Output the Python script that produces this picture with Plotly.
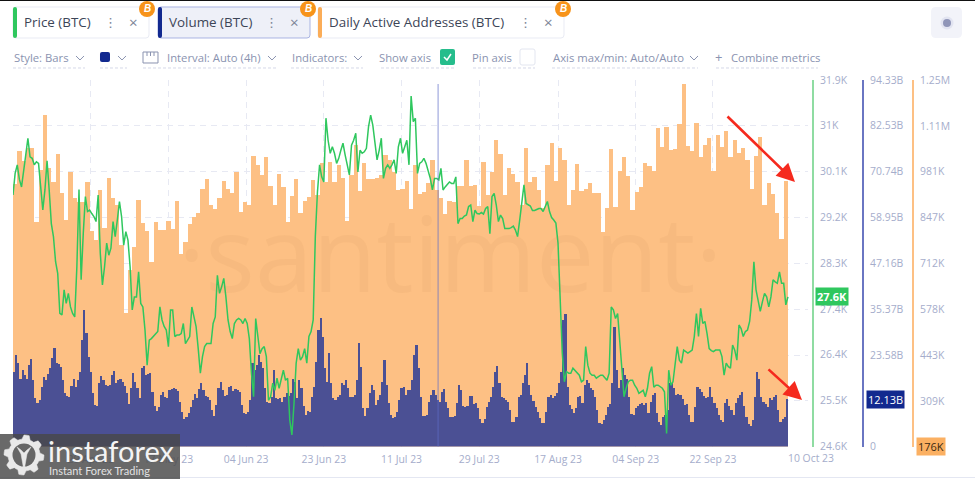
import math
import pandas as pd
import plotly.graph_objects as go

W, H = 975, 479

DAA_K = [945,1043,1013,1050,1050,835,986,1147,991,950,1033,918,839,981,905,893,893,952,808,781,929,815,962,903,883,766,566,693,761,898,832,808,717,833,810,810,837,812,895,740,774,828,849,861,932,960,885,872,903,954,932,920,979,864,893,883,1028,1001,971,1023,
940,883,976,937,835,910,960,859,895,908,957,913,1006,952,1010,952,1001,962,837,971,1059,924,1007,959,961,964,971,1030,1015,981,929,931,954,872,1001,915,922,947,1015,927,903,856,895,893,939,939,1015,939,942,881,1010,913,981,1074,1032,913,991,976,950,885,1050,
952,965,928,874,1001,1066,955,1052,1015,884,928,1004,926,932,947,920,920,805,876,1049,879,984,1025,969,869,922,937,1008,998,984,1108,1053,1112,1044,1048,1121,1238,1057,1042,1123,1024,1061,1079,982,1088,1055,1101,1023,1075,1035,1052,1015,930,1027,1084,884,949,915,861,785,955]

VOLUME_B = [19.3,23.6,21.4,17.5,19.7,18.4,17.5,21.0,22.4,17.1,12.4,11.3,12.0,15.4,18.0,17.1,18.7,20.1,22.7,25.3,21.4,21.2,20.5,17.1,13.7,13.0,12.8,15.6,17.3,15.2,17.1,19.3,27.4,35.1,29.1,23.1,19.3,13.7,10.7,10.4,16.3,18.1,17.1,15.8,15.6,15.8,18.4,19.5,16.3,17.1,17.5,16.7,15.6,13.7,10.9,15.0,18.8,16.7,15.0,12.4,20.1,20.8,18.4,18.7,19.0,14.1,10.3,9.2,10.1,13.3,13.9,12.7,12.4,14.5,14.7,15.0,14.7,14.4,11.5,9.0,7.0,7.5,8.5,10.1,12.0,13.4,12.4,14.7,16.3,14.5,13.0,12.7,12.0,9.4,7.9,10.7,15.0,16.7,14.5,13.0,13.3,15.2,15.6,14.4,14.7,14.5,13.9,10.7,8.5,8.3,9.0,12.0,21.4,19.7,21.0,23.6,21.8,20.1,15.0,11.5,11.1,
12.8,19.7,12.4,12.1,12.4,11.5,12.8,13.7,13.0,13.7,17.5,16.7,12.4,17.1,15.0,10.3,8.1,9.2,9.0,12.8,15.4,21.8,30.0,33.0,28.3,20.1,16.7,24.0,16.3,12.4,12.0,12.7,13.3,16.3,15.8,17.1,15.0,12.8,12.8,13.3,17.1,26.6,20.5,9.8,7.9,9.8,13.7,15.8,14.5,10.7,12.0,13.3,16.7,22.3,15.8,11.1,8.1,7.4,7.7,9.0,12.0,15.0,15.2,13.3,14.5,14.5,17.1,23.6,26.1,20.1,12.8,7.9,7.9,8.1,11.5,13.3,14.5,13.3,12.0,11.5,14.1,14.7,11.5,9.8,7.7,7.7,7.9,11.1,15.8,14.5,10.4,10.2,10.4,13.0,13.0,10.9,11.2,9.8,7.2,6.1,7.2,10.2,11.5,12.8,15.4,19.3,20.8,16.3,12.8,12.4,12.0,11.5,9.4,6.4,6.4,7.7,12.8,13.3,16.3,18.4,21.4,15.8,
13.3,11.8,10.2,9.0,7.3,6.0,6.1,9.0,12.8,13.3,12.4,13.0,13.7,16.3,19.3,32.6,34.1,15.4,10.7,9.6,8.7,9.8,12.8,13.0,11.1,15.8,17.1,16.3,15.0,14.5,12.7,9.4,6.0,5.8,6.8,8.1,10.2,10.9,16.3,30.8,19.7,15.0,17.1,20.1,18.4,17.5,12.8,8.4,8.1,9.8,10.4,10.9,11.1,10.7,11.1,8.5,11.5,13.3,13.7,8.5,6.4,5.5,7.7,8.1,9.4,16.3,16.4,15.0,13.3,13.4,13.3,12.1,10.7,10.9,8.1,6.4,6.4,10.2,15.2,14.7,14.1,13.0,12.4,12.8,15.2,12.8,11.1,9.8,8.1,6.8,6.4,11.1,12.1,10.4,9.4,8.1,11.2,12.4,13.3,14.1,10.4,7.7,5.8,5.3,6.8,12.8,19.3,17.5,12.8,11.5,10.9,10.2,12.4,12.0,12.8,13.3,9.4,6.4,7.0,7.7,12.13]

PRICE_K = [29.61,30.04,30.21,29.92,29.77,30.14,30.41,30.74,30.37,30.34,30.21,30.27,30.24,29.77,29.31,29.71,30.29,29.71,29.04,28.78,28.28,28.05,27.25,27.22,27.72,27.45,27.65,27.38,27.25,27.18,28.18,29.72,27.92,28.84,29.58,29.28,29.31,29.24,29.18,29.08,29.61,28.45,27.82,28.18,28.65,28.41,28.55,29.08,28.78,29.11,29.48,29.18,28.61,28.88,28.71,28.18,27.32,27.58,27.58,28.08,27.45,27.38,26.92,26.22,26.72,26.75,26.79,26.85,26.89,27.38,27.12,26.99,26.92,26.59,27.32,27.32,26.79,26.82,26.82,26.85,27.05,26.65,26.72,26.79,27.38,27.18,26.99,26.55,26.06,26.39,26.59,26.65,26.65,26.65,27.05,27.18,28.01,27.65,27.78,27.95,27.58,27.12,26.89,26.75,27.05,27.12,27.15,27.12,27.05,27.15,27.05,26.75,26.06,25.59,27.15,26.79,26.45,26.55,26.59,26.39,25.52,
25.59,25.86,25.72,25.96,25.76,25.92,26.12,25.92,25.96,25.13,24.83,25.46,26.26,26.55,26.32,26.39,26.55,26.26,26.79,26.89,27.12,28.78,29.67,30.21,29.97,29.87,31.14,30.70,30.44,30.57,30.44,30.24,30.34,30.50,30.64,30.41,30.21,30.01,30.60,30.70,30.84,30.07,30.50,30.44,30.47,30.54,30.97,31.20,31.00,30.70,30.31,30.50,30.74,29.94,30.14,30.21,30.14,30.21,30.31,30.04,30.57,30.74,30.44,30.57,30.70,30.21,31.58,31.07,31.14,30.04,30.24,30.27,30.34,30.24,30.11,29.94,29.71,29.94,29.94,29.91,30.14,29.71,29.77,29.81,29.87,29.84,29.84,29.97,29.04,29.14,29.14,29.19,29.21,29.38,29.41,29.08,29.31,29.24,29.23,29.26,29.23,29.34,29.38,28.84,29.58,29.64,29.41,29.08,29.21,29.14,28.94,28.94,28.94,28.96,28.99,28.91,28.78,29.11,29.41,29.81,29.44,29.41,
29.39,29.30,29.30,29.32,29.34,29.34,29.28,29.38,29.48,29.28,29.16,29.11,29.05,28.65,27.65,26.46,25.89,26.09,26.06,26.06,26.16,26.12,26.06,26.02,25.89,25.92,26.59,26.22,26.06,26.02,26.02,25.96,25.99,26.02,26.02,25.96,25.92,26.06,27.38,27.32,27.15,27.25,26.75,26.19,25.59,25.76,25.89,25.92,25.92,25.82,25.76,25.66,25.69,25.72,25.59,25.76,26.06,26.19,25.78,25.82,25.82,25.79,25.76,25.69,24.86,26.12,25.82,25.89,26.19,26.59,26.32,26.26,26.52,26.49,26.46,26.49,26.52,26.79,27.25,26.79,27.35,27.05,27.09,26.85,26.55,26.51,26.49,26.52,26.52,26.52,26.39,26.02,26.26,26.19,26.16,26.62,26.52,26.32,27.02,26.95,26.79,26.89,26.92,27.09,27.52,28.28,27.72,27.48,27.29,27.48,27.65,27.58,27.38,27.58,27.92,27.88,27.85,28.08,27.85,27.85,27.42,27.58]

START = "2023-04-11"
TICK_DATES = ["2023-04-11 00:00","2023-04-29 06:00","2023-05-17 12:00","2023-06-04 18:00","2023-06-23 00:00","2023-07-11 06:00","2023-07-29 12:00","2023-08-17 00:00","2023-09-04 06:00","2023-09-22 09:00"]
TICK_TEXT = ["","29 Apr 23","17 May 23","04 Jun 23","23 Jun 23","11 Jul 23","29 Jul 23","17 Aug 23","04 Sep 23","22 Sep 23"]
PRICE_TICKS = [24.6,25.51,26.43,27.34,28.25,29.17,30.09,31.0,31.9]
PRICE_LABELS = ["24.6K","25.5K","26.4K","27.4K","28.3K","29.2K","30.1K","31K","31.9K"]
VOL_TICKS = [0,23.58,35.37,47.16,58.95,70.74,82.53,94.33]
VOL_LABELS = ["0","23.58B","35.37B","47.16B","58.95B","70.74B","82.53B","94.33B"]
DAA_TICKS = [309.7,444,578.3,712.7,847,981.3,1115.6,1250]
DAA_LABELS = ["309K","443K","578K","712K","847K","981K","1.11M","1.25M"]

FONT = "Open Sans"
ORANGE, NAVY, GREEN = "#fdc084", "#4b5094", "#2fc75e"
MUTED = "#a5adcb"; UI = "#8a93b0"; DARK = "#3c4557"
TB = 11.3

t0 = pd.Timestamp(START)
day_x = [t0 + pd.Timedelta(hours=24*i+12) for i in range(len(DAA_K))]
vol_x = [t0 + pd.Timedelta(hours=12*i+6) for i in range(len(VOLUME_B))]
price_x = [t0 + pd.Timedelta(hours=12*i) for i in range(len(PRICE_K))]

fig = go.Figure()
fig.add_bar(x=day_x, y=DAA_K, width=86400000, marker=dict(color=ORANGE, line_width=0), yaxis="y")
fig.add_bar(x=vol_x, y=VOLUME_B, width=43200000, marker=dict(color=NAVY, line_width=0), yaxis="y2")
fig.add_scatter(x=price_x, y=PRICE_K, mode="lines", line=dict(color=GREEN, width=1.5), yaxis="y3")

shapes, ann = [], []
px = lambda v: v / W
py = lambda v: 1 - v / H

def rect(x0, y0, x1, y1, fill=None, line=None, lw=1, radius=0):
    if radius:
        r = radius
        xs = lambda v: f"{px(v):.5f}"; ys = lambda v: f"{py(v):.5f}"
        p = (f"M{xs(x0+r)},{ys(y0)} L{xs(x1-r)},{ys(y0)} Q{xs(x1)},{ys(y0)} {xs(x1)},{ys(y0+r)} "
             f"L{xs(x1)},{ys(y1-r)} Q{xs(x1)},{ys(y1)} {xs(x1-r)},{ys(y1)} L{xs(x0+r)},{ys(y1)} "
             f"Q{xs(x0)},{ys(y1)} {xs(x0)},{ys(y1-r)} L{xs(x0)},{ys(y0+r)} Q{xs(x0)},{ys(y0)} {xs(x0+r)},{ys(y0)} Z")
        shapes.append(dict(type="path", path=p, xref="paper", yref="paper", fillcolor=fill or "rgba(0,0,0,0)",
                           line=dict(color=line or "rgba(0,0,0,0)", width=lw if line else 0), layer="above"))
    else:
        shapes.append(dict(type="rect", xref="paper", yref="paper", x0=px(x0), x1=px(x1), y0=py(y0), y1=py(y1),
                           fillcolor=fill or "rgba(0,0,0,0)", line=dict(color=line or "rgba(0,0,0,0)", width=lw if line else 0), layer="above"))

def circle(cx, cy, r, fill):
    shapes.append(dict(type="circle", xref="paper", yref="paper", x0=px(cx-r), x1=px(cx+r), y0=py(cy-r), y1=py(cy+r),
                       fillcolor=fill, line_width=0, layer="above"))

def poly(points, color, width=1, dash=None, fill=None):
    p = "M" + " L".join(f"{px(a):.5f},{py(b):.5f}" for a, b in points)
    if fill: p += " Z"
    shapes.append(dict(type="path", path=p, xref="paper", yref="paper", fillcolor=fill or "rgba(0,0,0,0)",
                       line=dict(color=color, width=width, dash=dash or "solid"), layer="above"))

def text(x, y, s, size=12, color=UI, anchor="left", family=FONT, **kw):
    ann.append(dict(x=px(x), y=py(y), xref="paper", yref="paper", text=s, showarrow=False, xanchor=anchor, yanchor="middle",
                    font=dict(size=size, color=color, family=family), borderpad=0, **kw))

def chevron(x, y=58):
    poly([(x-4, y-2), (x, y+2), (x+4, y-2)], UI, 1)

def underline(x0, x1):
    poly([(x0, 68), (x1, 68)], "#d5d9e8", 1, dash="3px,2px")

# top edge and bottom edge of the capture
rect(0, 0, W, 1, fill="#111111")
poly([(0, 477.5), (W, 477.5)], "#e4e7f2", 1)

# metric tabs
tabs = [(13,149,"#2fc75e","Price (BTC)",110,133,147,"#ffffff","#e9ebf4"),
        (158,310,"#12298f","Volume (BTC)",271,294,308,"#eef0f8","#a9b4e2"),
        (318,564,"#fbad58","Daily Active Addresses (BTC)",525,548,563,"#ffffff","#e9ebf4")]
for x0,x1,c,label,dots,cross,badge,bg,edge in tabs:
    rect(x0, 7, x1, 38, fill=bg, line=edge, radius=3)
    rect(x0, 7, x0+4, 38, fill=c, radius=2)
    text(x0+10, 22.5, label, 13.4, DARK)
    text(dots, 22.5, "⋮", 13, "#7c8496", "center", family="DejaVu Sans")
    text(cross, 22.5, "×", 15, "#7c8496", "center")
    circle(badge, 9, 8, "#f7931a")
    text(badge, 9, "<b><i>B</i></b>", 10, "#ffffff", "center", family="Liberation Sans")

rect(931, 7, 962, 38, fill="#f2f3f9", radius=5)
circle(947, 23, 6.5, "#e2e4f1")
circle(947, 23, 4, "#8f95b8")

# toolbar
text(13, 57, "Style: Bars", TB, UI); chevron(80); underline(13, 85)
rect(100, 52, 110, 62, fill="#12298f", radius=2); chevron(122); underline(100, 127)
poly([(143,63),(143,52),(158,52),(158,63),(143,63)], UI, 1)
for tx in (147, 150.5, 154): poly([(tx,52),(tx,56)], UI, 1)
text(166, 57, "Interval: Auto (4h)", TB, UI); chevron(272); underline(143, 276)
text(291, 57, "Indicators:", TB, UI); chevron(358); underline(291, 363)
text(378, 57, "Show axis", TB, UI); underline(381, 455)
rect(440, 49, 455, 65, fill="#26bd8c", radius=2)
poly([(444,57),(447,60),(451,54)], "#ffffff", 1.5)
text(471, 57, "Pin axis", TB, UI); underline(473, 535)
rect(520, 49, 535, 65, fill="#ffffff", line="#e3e6f0", radius=2)
text(552, 57, "Axis max/min: Auto/Auto", TB, UI); chevron(694); underline(552, 698)
text(718, 57, "+", 13, UI, "center"); text(730, 57, "Combine metrics", TB, UI); underline(716, 818)

# cursor line
fig.add_shape(type="line", xref="x", yref="paper", x0="2023-07-19 20:00", x1="2023-07-19 20:00", y0=py(446.5), y1=py(84),
              line=dict(color="rgba(95,110,200,0.7)", width=1), layer="above")

# santiment mark
text(450, 251, "·santiment·", 104, "rgba(170,120,70,0.075)", "center", family="Open Sans")

# badges
ann.append(dict(x=px(832), y=PRICE_K[-1], xref="paper", yref="y3", text="<b>27.6K</b>", showarrow=False, bgcolor="#2fc75e",
                xanchor="center", font=dict(size=11, color="#ffffff", family=FONT), borderpad=1))
ann.append(dict(x=px(885), y=VOLUME_B[-1], xref="paper", yref="y2", text="12.13B", showarrow=False, bgcolor="#12298f",
                xanchor="center", font=dict(size=11, color="#ffffff", family=FONT), borderpad=1))
text(930.5, 446, "176K", 11, "#3a2a12", "center", bgcolor="#fbb062")
ann[-1]["borderpad"] = 1
text(787, 458, "10 Oct 23", 10.4, MUTED)

# red arrows
for (xa, ya), (xb, yb) in [((726,115),(795,182)), ((767,368),(802,400))]:
    ann.append(dict(x=px(xb), y=py(yb), xref="paper", yref="paper", ax=xa-xb, ay=ya-yb, text="", showarrow=True,
                    arrowhead=2, arrowsize=1.4, arrowwidth=2.6, arrowcolor="#f52a1e"))

# instaforex plate
rect(0, 434, 180, 479, fill="rgba(72,72,72,0.82)")
gear = []
for i in range(48):
    a = 2*math.pi*i/48
    r = 20 if (i % 6) in (0, 1, 2) else 16
    gear.append((24 + r*math.cos(a), 455 + r*math.sin(a)))
poly(gear, "#e9e9e9", 0.5, fill="#e9e9e9")
circle(24, 455, 11.5, "#666666")
poly([(17,447),(21,454),(24,471),(27,454),(31,447),(27,450),(24,453),(21,450)], "#e9e9e9", 0.5, fill="#e9e9e9")
text(47, 450, "instaforex", 29, "#f4f4f4", family="Lato")
text(48, 470, "Instant Forex Trading", 11, "#e2e2e2", family="Lato")

X0, X1 = px(13), px(808)
Y0, Y1 = py(446.5), py(80)
def yax(rng, vals, labels, pos, color, **kw):
    d = dict(domain=[Y0, Y1], range=rng, tickmode="array", tickvals=vals, ticktext=labels, anchor="free", position=pos,
             side="right", showline=True, linecolor=color, linewidth=2, ticks="", ticklen=0, ticklabelstandoff=4,
             tickfont=dict(size=10.4, color=MUTED, family=FONT), zeroline=False, showgrid=False, fixedrange=True)
    d.update(kw)
    return d

fig.update_layout(
    width=W, height=H, autosize=False, margin=dict(l=0, r=0, t=0, b=0, pad=0, autoexpand=False), paper_bgcolor="#ffffff", plot_bgcolor="#ffffff",
    barmode="overlay", bargap=0, showlegend=False, hovermode=False, font=dict(family=FONT),
    xaxis=dict(domain=[X0, X1], type="date", range=["2023-04-11 00:00", "2023-10-14 17:00"], tickmode="array",
               tickvals=TICK_DATES, ticktext=TICK_TEXT, showgrid=True, gridcolor="#e7e9f3", griddash="6px,5px", gridwidth=1,
               ticks="", ticklen=0, ticklabelstandoff=5, tickfont=dict(size=10.4, color=MUTED, family=FONT), zeroline=False, showline=False, fixedrange=True),
    yaxis=yax([176, 1250], DAA_TICKS, DAA_LABELS, px(913), "#fdc084", showgrid=True, gridcolor="#e7e9f3", griddash="6px,5px", gridwidth=1),
    yaxis2=yax([0, 94.33], VOL_TICKS, VOL_LABELS, px(863), "#6a76c2", overlaying="y"),
    yaxis3=yax([24.6, 31.9], PRICE_TICKS, PRICE_LABELS, px(813), "#8fdca2", overlaying="y"),
    annotations=ann,
)
for s in shapes:
    fig.add_shape(**s)

fig.write_html("out.html", config={"displayModeBar": False},
               post_script="document.documentElement.style.margin='0';document.body.style.margin='0';document.body.style.overflow='hidden';var g=document.getElementById('{plot_id}');g.style.position='fixed';g.style.left='0';g.style.top='0';")
